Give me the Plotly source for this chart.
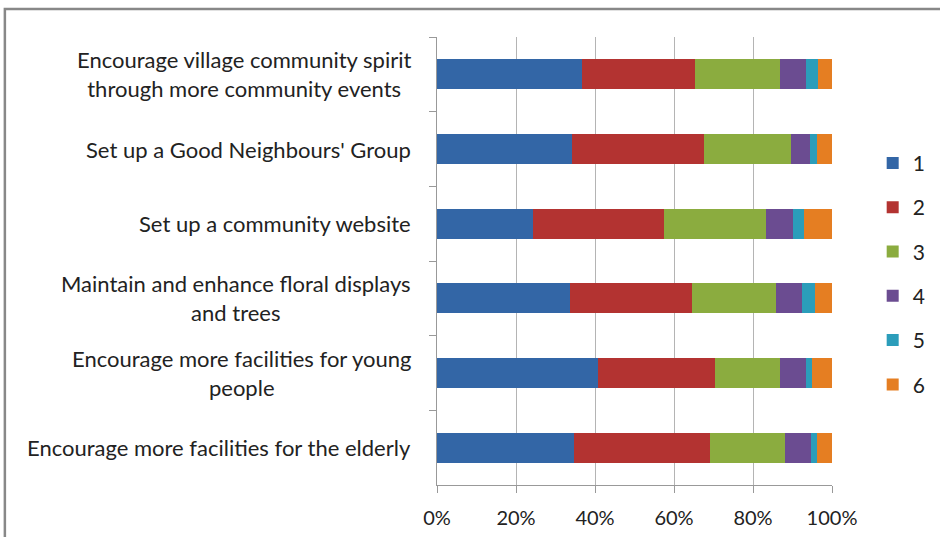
import plotly.graph_objects as go

categories = [
    "Encourage village community spirit<br>through more community events",
    "Set up a Good Neighbours' Group",
    "Set up a community website",
    "Maintain and enhance floral displays<br>and trees",
    "Encourage more facilities for young<br>people",
    "Encourage more facilities for the elderly",
]
series_names = ["1", "2", "3", "4", "5", "6"]
s1 = [36.6, 34.3, 24.4, 33.7, 40.7, 34.6]
s2 = [28.8, 33.4, 33.1, 30.8, 29.8, 34.7]
s3 = [21.5, 21.8, 25.8, 21.2, 16.5, 18.8]
s4 = [6.4, 5.0, 6.8, 6.7, 6.4, 6.8]
s5 = [3.1, 1.7, 2.9, 3.2, 1.7, 1.4]
s6 = [3.6, 3.8, 7.0, 4.4, 5.0, 3.8]
x_ticks = [0, 0.2, 0.4, 0.6, 0.8, 1.0]

colors = ["#3366A6", "#B33331", "#8BAC3F", "#6B4C91", "#2B9DBA", "#E57E22"]
series = [s1, s2, s3, s4, s5, s6]

fig = go.Figure()
totals = [sum(v[i] for v in series) for i in range(len(categories))]
for name, vals, col in zip(series_names, series, colors):
    frac = [vals[i] / totals[i] for i in range(len(categories))]
    fig.add_trace(go.Bar(
        y=categories, x=frac, name=name, orientation="h",
        marker=dict(color=col, line=dict(width=0)),
        legendgroup=name,
    ))

font_family = "Lato, 'Liberation Sans', Arial, sans-serif"

for cat in categories:
    fig.add_annotation(
        x=-0.06, xref="paper", y=cat, yref="y",
        text=cat, showarrow=False, xanchor="right", align="center",
        font=dict(family=font_family, size=22, color="#222222"),
    )

fig.update_layout(
    width=940, height=537,
    margin=dict(l=437, r=108, t=37, b=52, autoexpand=False),
    paper_bgcolor="white", plot_bgcolor="white",
    barmode="stack", bargap=0.6,
    font=dict(family=font_family, size=20, color="#222222"),
    showlegend=True,
    legend=dict(
        x=1.103, xanchor="left", y=0.764, yanchor="top",
        traceorder="grouped", tracegroupgap=14,
        font=dict(size=21, color="#222222"),
        itemwidth=30,
    ),
    xaxis=dict(
        range=[0, 1], tickvals=x_ticks, tickformat=".0%",
        showgrid=True, gridcolor="#B4B4B4", gridwidth=1,
        showline=True, linecolor="#999999", linewidth=1,
        ticks="outside", ticklen=7, tickcolor="#999999",
        ticklabelstandoff=8,
        zeroline=False, fixedrange=True,
    ),
    yaxis=dict(
        autorange="reversed", showticklabels=False,
        showline=True, linecolor="#999999", linewidth=1,
        ticks="outside", ticklen=7, tickcolor="#999999",
        tickson="boundaries", showgrid=False,
    ),
    shapes=[dict(
        type="rect", xref="paper", yref="paper",
        x0=-1.094, x1=1.30, y0=-0.2, y1=1.0625,
        line=dict(color="#888888", width=2.5), layer="below",
    )],
)

fig.write_html(
    "out.html",
    config={"displayModeBar": False},
    post_script="document.body.style.margin='0';document.body.style.overflow='hidden';",
)
